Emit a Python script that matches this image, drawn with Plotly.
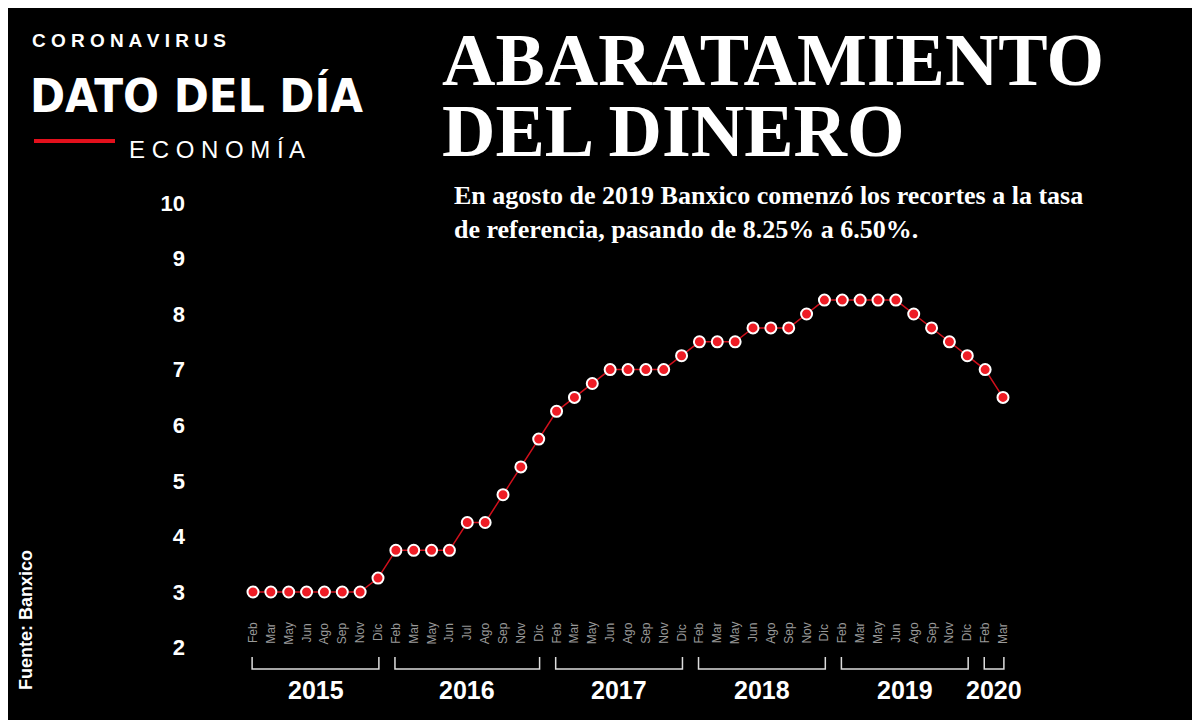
import plotly.graph_objects as go

years = ["2015", "2016", "2017", "2018", "2019", "2020"]
months = [
    ["Feb", "Mar", "May", "Jun", "Ago", "Sep", "Nov", "Dic"],
    ["Feb", "Mar", "May", "Jun", "Jul", "Ago", "Sep", "Nov", "Dic"],
    ["Feb", "Mar", "May", "Jun", "Ago", "Sep", "Nov", "Dic"],
    ["Feb", "Mar", "May", "Jun", "Ago", "Sep", "Nov", "Dic"],
    ["Feb", "Mar", "May", "Jun", "Ago", "Sep", "Nov", "Dic"],
    ["Feb", "Mar"],
]
rates = [
    [3, 3, 3, 3, 3, 3, 3, 3.25],
    [3.75, 3.75, 3.75, 3.75, 4.25, 4.25, 4.75, 5.25, 5.75],
    [6.25, 6.5, 6.75, 7, 7, 7, 7, 7.25],
    [7.5, 7.5, 7.5, 7.75, 7.75, 7.75, 8, 8.25],
    [8.25, 8.25, 8.25, 8.25, 8, 7.75, 7.5, 7.25],
    [7, 6.5],
]
yticks = [2, 3, 4, 5, 6, 7, 8, 9, 10]

W, H = 1200, 720
OFF = 8  # page offset compensation
x0px, dx = 253 - OFF, 17.857
def px2i(px): return (px - x0px) / dx
y3px, dy = 592 - OFF, 55.6
def py2v(py): return 3 + (y3px - py) / dy
def X(px): return (px - OFF) / W
def Y(py): return 1 - (py - OFF) / H

xs, ys, labels, groups = [], [], [], []
i = 0
for yr, ms, rs in zip(years, months, rates):
    start = i
    for m, r in zip(ms, rs):
        xs.append(i); ys.append(r); labels.append(m); i += 1
    groups.append((yr, start, i - 1))

fig = go.Figure()
fig.add_trace(go.Scatter(
    x=xs, y=ys, mode="lines+markers",
    line=dict(color="#d0101c", width=1.5),
    marker=dict(size=11, color="#ee1c25", line=dict(color="white", width=2)),
    hoverinfo="skip"))

dom0 = (190 - OFF) / W
fig.update_layout(
    width=W, height=H, paper_bgcolor="black", plot_bgcolor="black",
    margin=dict(l=0, r=0, t=0, b=0), showlegend=False,
    xaxis=dict(domain=[dom0, 1], range=[px2i(190 - OFF), px2i(W)], visible=False),
    yaxis=dict(domain=[0, 1], range=[py2v(H), py2v(0)], tickvals=yticks,
               showgrid=False, zeroline=False, ticks="", ticklabelstandoff=4,
               tickfont=dict(family="Liberation Sans", size=22, color="white", weight="bold")),
)

anns = []
for x, m in zip(xs, labels):
    anns.append(dict(x=x, y=Y(633), xref="x", yref="paper", text=m, textangle=-90,
                     showarrow=False, yanchor="middle",
                     font=dict(family="Liberation Sans", size=12, color="#9a9a9a")))
shapes = []
for yr, a, b in groups:
    xa, xb = a - 0.05, b + 0.05
    yt, yb = Y(657), Y(669)
    shapes.append(dict(type="path", xref="x", yref="paper",
                       path=f"M {xa},{yt} L {xa},{yb} L {xb},{yb} L {xb},{yt}",
                       line=dict(color="#dddddd", width=1.5)))
    anns.append(dict(x=(a + b) / 2, y=Y(690), xref="x", yref="paper", text=yr,
                     showarrow=False, yanchor="middle",
                     font=dict(family="Liberation Sans", size=25, color="white", weight="bold")))

def pa(x, y, text, size, family, xanchor="left", weight="normal", angle=0, color="white"):
    anns.append(dict(x=X(x), y=Y(y), xref="paper", yref="paper", text=text, showarrow=False,
                     xanchor=xanchor, yanchor="middle", textangle=angle, align="left",
                     font=dict(family=family, size=size, color=color, weight=weight)))

pa(30, 41, "C O R O N A V I R U S", 19, "Liberation Sans", weight="bold")
pa(28, 95, "DATO DEL DÍA", 47, "DejaVu Sans Condensed", weight="bold")
pa(127, 150, "E C O N O M Í A", 24, "Liberation Sans")
shapes.append(dict(type="line", xref="paper", yref="paper", x0=X(34), x1=X(115),
                   y0=Y(141), y1=Y(141), line=dict(color="#e3101c", width=4)))
pa(440, 60, "ABARATAMIENTO", 74, "Liberation Serif", weight="bold")
pa(440, 131, "DEL DINERO", 74, "Liberation Serif", weight="bold")
pa(452, 212, "En agosto de 2019 Banxico comenzó los recortes a la tasa<br>de referencia, pasando de 8.25% a 6.50%.",
   26, "Liberation Serif", weight="bold")
pa(26, 620, "Fuente: Banxico", 18, "Liberation Sans", xanchor="center", angle=-90, weight="bold")

fig.update_layout(annotations=anns, shapes=shapes)
fig.write_html("out.html")
